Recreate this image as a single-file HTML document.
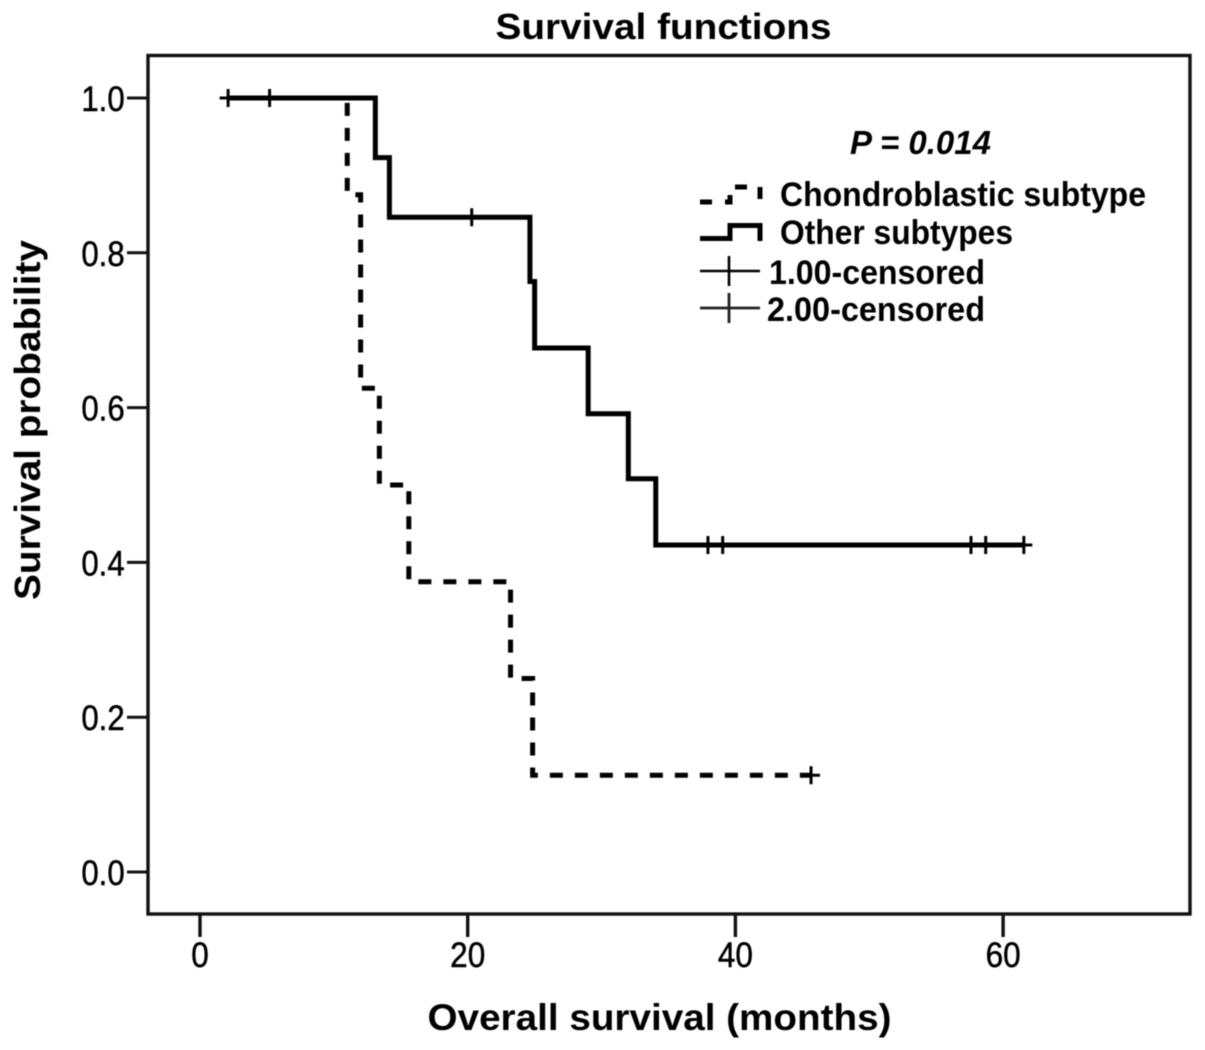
<!DOCTYPE html>
<html lang="en">
<head>
<meta charset="utf-8">
<title>Survival functions</title>
<style>
html,body{margin:0;padding:0;background:#fff;}
svg{display:block;font-family:"Liberation Sans",Arial,sans-serif;fill:#000;filter:blur(0.45px);}
.tick-label{font-size:35px;stroke:#000;stroke-width:0.5px;}
.legend-text{font-size:34px;font-weight:bold;}
</style>
</head>
<body>
<svg id="chart" xmlns="http://www.w3.org/2000/svg" width="1205" height="1050" viewBox="0 0 1205 1050">
  <rect x="0" y="0" width="1205" height="1050" fill="#fff"/>
  <text x="663.5" y="39" text-anchor="middle" font-size="36" font-weight="bold" textLength="336" lengthAdjust="spacingAndGlyphs">Survival functions</text>
  <text transform="translate(40,420) rotate(-90)" text-anchor="middle" font-size="36" font-weight="bold" textLength="360" lengthAdjust="spacingAndGlyphs">Survival probability</text>
  <text x="659.5" y="1030" text-anchor="middle" font-size="37" font-weight="bold" textLength="464" lengthAdjust="spacingAndGlyphs">Overall survival (months)</text>
  <rect x="148" y="55.5" width="1042" height="858.5" fill="none" stroke="#111" stroke-width="3.4"/>
  <g id="axes"></g>
  <g id="series"></g>

  <text x="850" y="154" font-size="33" font-weight="bold" font-style="italic" textLength="141" lengthAdjust="spacingAndGlyphs">P = 0.014</text>

  <g>
    <path d="M700 202H730V187H760V202" fill="none" stroke="#000" stroke-width="5" stroke-dasharray="12 13"/>
    <text class="legend-text" x="780" y="206" textLength="366" lengthAdjust="spacingAndGlyphs">Chondroblastic subtype</text>
    <path d="M700 238.5H730V225.5H760V241" fill="none" stroke="#000" stroke-width="5"/>
    <text class="legend-text" x="780" y="244" textLength="233" lengthAdjust="spacingAndGlyphs">Other subtypes</text>
    <path d="M700 271H760M729 256V286" fill="none" stroke="#000" stroke-width="2.6"/>
    <text class="legend-text" x="769" y="284" textLength="216" lengthAdjust="spacingAndGlyphs">1.00-censored</text>
    <path d="M700 308H760M729 293V323" fill="none" stroke="#222" stroke-width="2.8"/>
    <text class="legend-text" x="767" y="321" textLength="218" lengthAdjust="spacingAndGlyphs">2.00-censored</text>
  </g>
</svg>
<script>
// Chart data
var xTickValues = [0, 20, 40, 60];
var xTickLabels = ["0", "20", "40", "60"];
var yTickValues = [0, 0.2, 0.4, 0.6, 0.8, 1];
var yTickLabels = ["0.0", "0.2", "0.4", "0.6", "0.8", "1.0"];

var chondroStartTime = 2.1;
var chondroEndTime = 45.65;
var chondroEventTimes = [11.0, 12.0, 13.4, 15.6, 23.2, 24.85];
var chondroSurvival = [0.875, 0.625, 0.5, 0.375, 0.25, 0.125];
var chondroCensorTimes = [45.65];

var otherStartTime = 2.1;
var otherEndTime = 61.55;
var otherEventTimes = [13.1, 14.15, 24.65, 25.0, 29.0, 32.0, 34.05];
var otherSurvival = [0.923, 0.846, 0.763, 0.677, 0.592, 0.508, 0.4225];
var otherCensorTimes = [2.1, 5.2, 20.3, 37.95, 39.05, 57.6, 58.7, 61.55];

// Axis functions
function xScale(t) { return 200 + t * 13.385; }
function yScale(s) { return 872 - s * 774; }

var SVG_NS = "http://www.w3.org/2000/svg";
var axes = document.getElementById("axes");
var series = document.getElementById("series");

function make(tag, parent, attrs) {
  var el = document.createElementNS(SVG_NS, tag);
  for (var k in attrs) { el.setAttribute(k, attrs[k]); }
  parent.appendChild(el);
  return el;
}

function squeeze(el, factor) {
  el.setAttribute("textLength", el.getComputedTextLength() * factor);
  el.setAttribute("lengthAdjust", "spacingAndGlyphs");
}

xTickValues.forEach(function (v, i) {
  var x = xScale(v);
  var tick = make("line", axes, { x1: x, x2: x, y1: 914, y2: 937, stroke: "#111", "stroke-width": 3.4 });
  
  
  var label = make("text", axes, { x: x, y: 967, "text-anchor": "middle", "class": "tick-label" });
  label.textContent = xTickLabels[i];
  
  
  squeeze(label, 0.9);
});

yTickValues.forEach(function (v, i) {
  var y = yScale(v);
  var tick = make("line", axes, { x1: 127, x2: 148, y1: y, y2: y, stroke: "#111", "stroke-width": 3 });
  
  
  var label = make("text", axes, { x: 103, y: y + 13, "text-anchor": "middle", "class": "tick-label" });
  label.textContent = yTickLabels[i];
  
  
  squeeze(label, 0.89);
});

function stepPath(startTime, endTime, times, values) {
  var level = yScale(1);
  var d = "M" + xScale(startTime) + " " + level;
  times.forEach(function (t, i) {
    d += "H" + xScale(t) + "V" + yScale(values[i]);
  });
  d += "H" + xScale(endTime);
  return d;
}

function censorLevel(t, times, values) {
  var s = 1;
  times.forEach(function (et, i) { if (et <= t) { s = values[i]; } });
  return s;
}

var otherLine = make("path", series, {
  d: stepPath(otherStartTime, otherEndTime, otherEventTimes, otherSurvival),
  fill: "none", stroke: "#000", "stroke-width": 5, "stroke-linejoin": "miter"
});



var chondroLine = make("path", series, {
  d: stepPath(chondroStartTime, chondroEndTime, chondroEventTimes, chondroSurvival),
  fill: "none", stroke: "#000", "stroke-width": 5,
  "stroke-dasharray": "13 12", "stroke-dashoffset": 1
});



otherCensorTimes.forEach(function (t) {
  var x = xScale(t);
  var y = yScale(censorLevel(t, otherEventTimes, otherSurvival));
  var mark = make("path", series, {
    d: "M" + (x - 8.5) + " " + y + "H" + (x + 8.5) + "M" + x + " " + (y - 9) + "V" + (y + 9),
    fill: "none", stroke: "#000", "stroke-width": 3
  });
  
  
});

chondroCensorTimes.forEach(function (t) {
  var x = xScale(t);
  var y = yScale(censorLevel(t, chondroEventTimes, chondroSurvival));
  var mark = make("path", series, {
    d: "M" + (x - 9) + " " + y + "H" + (x + 9) + "M" + x + " " + (y - 9) + "V" + (y + 9),
    fill: "none", stroke: "#000", "stroke-width": 3
  });
  
  
});
</script>
</body>
</html>
